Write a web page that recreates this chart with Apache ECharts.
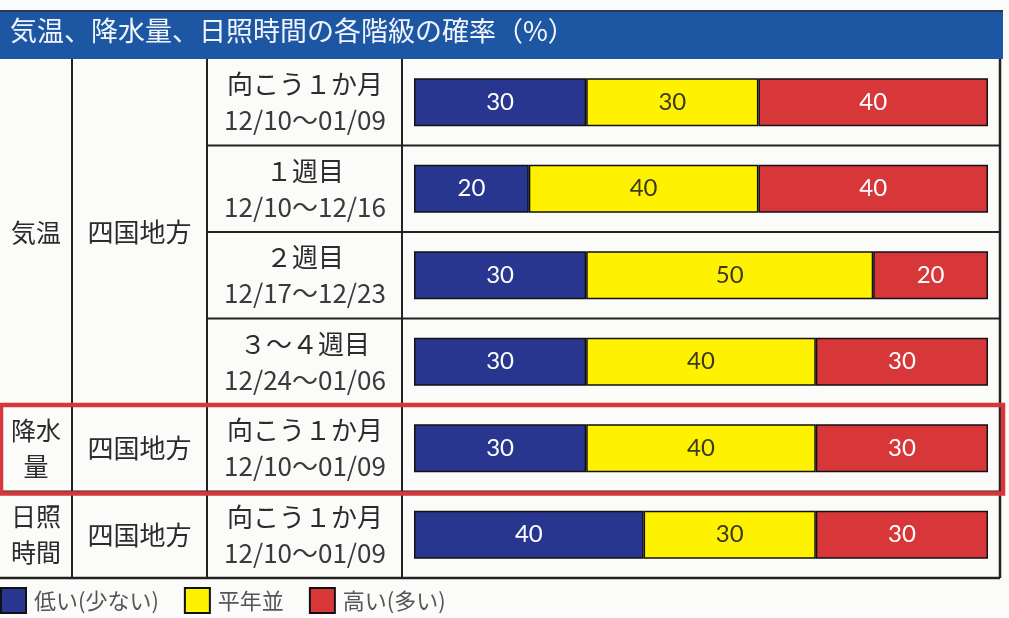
<!DOCTYPE html>
<html>
<head>
<meta charset="utf-8">
<script src="https://cdn.jsdelivr.net/npm/echarts@6/dist/echarts.min.js"></script>
<style>
  html, body { margin: 0; padding: 0; background: #fbfbf9; }
  #chart { width: 1009px; height: 618px; }
</style>
</head>
<body>
<div id="chart"></div>
<script>
// rows of the table (top to bottom)
const rowIds = ['r1', 'r2', 'r3', 'r4', 'r5', 'r6'];
const periodLabels = ['向こう１か月', '１週目', '２週目', '３～４週目', '向こう１か月', '向こう１か月'];
const dateLabels = ['12/10～01/09', '12/10～12/16', '12/17～12/23', '12/24～01/06', '12/10～01/09', '12/10～01/09'];
// merged cells: element / region, with the rows they span
const elementLabels = ['気温', '降水\n量', '日照\n時間'];
const elementRows = [[0, 3], [4, 4], [5, 5]];
const regionLabels = ['四国地方', '四国地方', '四国地方'];

const seriesNames = ['低い(少ない)', '平年並', '高い(多い)'];
const lowValues = [30, 20, 30, 30, 30, 40];
const normalValues = [30, 40, 50, 40, 40, 30];
const highValues = [40, 40, 20, 30, 30, 30];

const titleText = '気温、降水量、日照時間の各階級の確率（%）';

const colors = ['#28368f', '#fff200', '#d8373a'];
const labelColors = ['#ffffff', '#3b3a1e', '#ffffff'];
const jpFont = '"Noto Sans CJK JP", "Noto Sans", sans-serif';

const chart = echarts.init(document.getElementById('chart'));

function barSeries(i, values) {
    return {
        name: seriesNames[i],
        type: 'bar',
        stack: 'total',
        barWidth: 48,
        data: values,
        itemStyle: { color: colors[i], borderColor: '#111', borderWidth: 1.5 },
        label: {
            show: true,
            position: 'inside',
            color: labelColors[i],
            fontSize: 24,
            fontFamily: 'Lato, "Noto Sans", sans-serif'
        },
        emphasis: { disabled: true }
    };
}

chart.setOption({
    backgroundColor: '#fbfbf9',
    animation: false,
    title: {
        text: titleText,
        left: 10,
        top: 17,
        padding: 0,
        textStyle: { color: '#f2f5fb', fontSize: 27, fontWeight: 'normal', fontFamily: jpFont }
    },
    legend: {
        left: 0,
        top: 587,
        padding: 0,
        icon: 'rect',
        itemWidth: 25,
        itemHeight: 25,
        itemGap: 25,
        textStyle: { color: '#555', fontSize: 22, fontFamily: jpFont, padding: [0, 0, 0, 3] }
    },
    grid: { left: 414, right: 21, top: 59, bottom: 40 },
    xAxis: {
        type: 'value',
        min: 0,
        max: 100,
        show: false
    },
    yAxis: {
        type: 'category',
        inverse: true,
        data: rowIds,
        axisLine: { show: false },
        axisTick: { show: false },
        splitLine: { show: false },
        axisLabel: {
            align: 'center',
            margin: 109,
            formatter: (v, i) => '{p|' + periodLabels[i] + '}\n{d|' + dateLabels[i] + '}',
            rich: {
                p: { fontSize: 26, lineHeight: 36, color: '#2b2b2b', fontFamily: jpFont },
                d: { fontSize: 26, lineHeight: 36, color: '#3a3a3a', fontFamily: jpFont }
            }
        }
    },
    series: [
        barSeries(0, lowValues),
        barSeries(1, normalValues),
        barSeries(2, highValues)
    ]
});

// table frame and merged cells, placed from the category axis
const rowY = rowIds.map((id, i) => chart.convertToPixel({ yAxisIndex: 0 }, i));
const rowH = rowY[1] - rowY[0];
const topY = rowY[0] - rowH / 2;
const bottomY = rowY[5] + rowH / 2;
const rightX = 1000;
const colX = [72, 207, 402];

const graphics = [];
graphics.push({ type: 'rect', z: -1, shape: { x: 0, y: 12, width: 1003, height: topY - 12 }, style: { fill: '#1d57a4' } });
graphics.push({ type: 'line', shape: { x1: 0, y1: 11, x2: 1003, y2: 11 }, style: { stroke: '#2a3550', lineWidth: 2 } });

for (let i = 0; i < 5; i++) {
    const y = (rowY[i] + rowY[i + 1]) / 2;
    graphics.push({ type: 'line', shape: { x1: i < 3 ? colX[1] : 0, y1: y, x2: rightX, y2: y }, style: { stroke: '#222', lineWidth: 2 } });
}
graphics.push({ type: 'line', shape: { x1: 0, y1: bottomY, x2: rightX, y2: bottomY }, style: { stroke: '#222', lineWidth: 2.5 } });
colX.forEach(x => {
    graphics.push({ type: 'line', shape: { x1: x, y1: topY, x2: x, y2: bottomY }, style: { stroke: '#222', lineWidth: 2 } });
});
graphics.push({ type: 'line', shape: { x1: rightX, y1: topY, x2: rightX, y2: bottomY }, style: { stroke: '#222', lineWidth: 2.5 } });

elementLabels.forEach((t, k) => {
    const [a, b] = elementRows[k];
    const cy = (rowY[a] + rowY[b]) / 2;
    graphics.push({ type: 'text', x: colX[0] / 2, y: cy, style: { text: t, fill: '#2b2b2b', font: '25px ' + jpFont, align: 'center', verticalAlign: 'middle', lineHeight: 36 } });
    graphics.push({ type: 'text', x: (colX[0] + colX[1]) / 2, y: cy, style: { text: regionLabels[k], fill: '#2b2b2b', font: '26px ' + jpFont, align: 'center', verticalAlign: 'middle' } });
});

// red highlight around the precipitation row
const hlTop = (rowY[3] + rowY[4]) / 2;
const hlBottom = (rowY[4] + rowY[5]) / 2 + 2;
graphics.push({ type: 'rect', z: 10, shape: { x: 1, y: hlTop, width: 1002, height: hlBottom - hlTop }, style: { fill: 'none', stroke: '#d8373a', lineWidth: 4.5 } });

chart.setOption({ graphic: graphics });
</script>
</body>
</html>
